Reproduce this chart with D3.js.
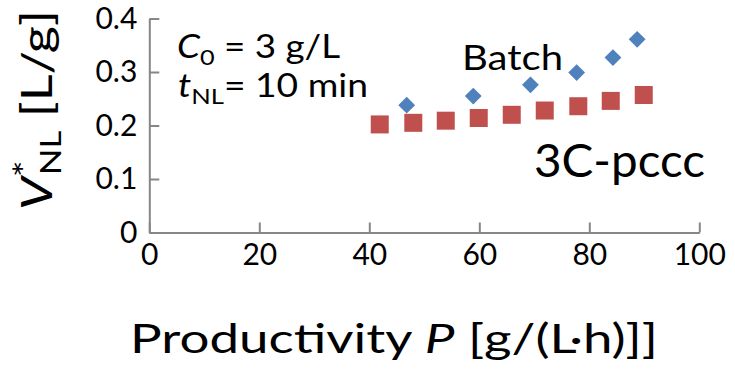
<!DOCTYPE html>
<html>
<head>
<meta charset="utf-8">
<script src="https://cdn.jsdelivr.net/npm/d3@7"></script>
<style>
  body { margin: 0; background: #fff; }
  text { font-family: Lato, "Open Sans", sans-serif; fill: #000; }
</style>
</head>
<body>
<div id="chart"></div>
<script>
// data
const batchP = [46.8, 58.9, 69.3, 77.7, 84.3, 88.7];
const batchV = [0.238, 0.255, 0.276, 0.299, 0.327, 0.361];
const pcccP = [41.9, 48.0, 53.9, 59.9, 65.9, 71.9, 78.0, 83.9, 89.9];
const pcccV = [0.202, 0.205, 0.209, 0.214, 0.220, 0.228, 0.236, 0.246, 0.257];
const xTicks = [0, 20, 40, 60, 80, 100];
const yTicks = [0, 0.1, 0.2, 0.3, 0.4];

const width = 735, height = 369;
const axisColor = "#868686";

const svg = d3.select("#chart").append("svg")
    .attr("width", width)
    .attr("height", height);

const x = d3.scaleLinear().domain([0, 100]).range([149.3, 699.3]);
const y = d3.scaleLinear().domain([0, 0.4]).range([232.5, 18.5]);

// axes, ticks pointing inward like the Excel original
const yAxis = svg.append("g")
    .attr("transform", `translate(${x(0)},0)`)
    .call(d3.axisLeft(y).tickValues(yTicks)
        .tickSizeInner(-10).tickSizeOuter(0).tickPadding(12)
        .tickFormat(d => d === 0 ? "0" : d.toFixed(1)));

const xAxis = svg.append("g")
    .attr("transform", `translate(0,${y(0)})`)
    .call(d3.axisBottom(x).tickValues(xTicks)
        .tickSizeInner(-10).tickSizeOuter(0).tickPadding(11)
        .tickFormat(d3.format("d")));

[xAxis, yAxis].forEach(g => {
    g.select(".domain").attr("stroke", axisColor).attr("stroke-width", 2);
    g.selectAll(".tick line").attr("stroke", axisColor).attr("stroke-width", 2);
    g.selectAll(".tick text")
        .attr("fill", "#000")
        .style("font-family", "Lato, sans-serif")
        .style("font-size", "30px");
});

// series
const pccc = pcccP.map((p, i) => ({ p, v: pcccV[i] }));
const batch = batchP.map((p, i) => ({ p, v: batchV[i] }));

svg.append("g")
    .selectAll("rect")
    .data(pccc)
    .enter().append("rect")
    .attr("x", d => x(d.p) - 9)
    .attr("y", d => y(d.v) - 9)
    .attr("width", 18)
    .attr("height", 18)
    .attr("fill", "#C0504D");

svg.append("g")
    .selectAll("path")
    .data(batch)
    .enter().append("path")
    .attr("d", d3.symbol().type(d3.symbolDiamond2).size(180))
    .attr("transform", d => `translate(${x(d.p)},${y(d.v)})`)
    .attr("fill", "#4F81BD");

// annotations (textLength stretches Lato to the wider Calibri look)
const c0 = svg.append("text").attr("x", 177).attr("y", 58)
    .attr("textLength", 163).attr("lengthAdjust", "spacingAndGlyphs")
    .style("font-size", "32px");
c0.append("tspan").text("C").style("font-style", "italic");
c0.append("tspan").text("0").attr("dy", 7).style("font-size", "22px");
c0.append("tspan").text(" = 3 g/L").attr("dy", -7);

const tnl = svg.append("text").attr("x", 178).attr("y", 97)
    .attr("textLength", 190).attr("lengthAdjust", "spacingAndGlyphs")
    .style("font-size", "32px");
tnl.append("tspan").text("t").style("font-style", "italic");
tnl.append("tspan").text("NL").attr("dy", 7).style("font-size", "22px");
tnl.append("tspan").text("= 10 min").attr("dy", -7);

svg.append("text").attr("x", 462).attr("y", 70)
    .attr("textLength", 101).attr("lengthAdjust", "spacingAndGlyphs")
    .style("font-size", "35px").text("Batch");
svg.append("text").attr("x", 534).attr("y", 177)
    .attr("textLength", 171).attr("lengthAdjust", "spacingAndGlyphs")
    .style("font-size", "46px").text("3C-pccc");

// x title
const xt = svg.append("text")
    .attr("x", 130).attr("y", 353)
    .attr("textLength", 528).attr("lengthAdjust", "spacingAndGlyphs")
    .style("font-size", "40px");
xt.append("tspan").text("Productivity ");
xt.append("tspan").text("P").style("font-style", "italic");
xt.append("tspan").text(" [g/(L·h)]]");

// y title
const yt = svg.append("text")
    .attr("transform", "translate(52,210) rotate(-90)")
    .attr("textLength", 200).attr("lengthAdjust", "spacingAndGlyphs")
    .style("font-size", "42px");
yt.append("tspan").text("V").style("font-style", "italic");
yt.append("tspan").text("*").attr("dy", -15).style("font-size", "32px");
yt.append("tspan").text("NL").attr("dx", -12).attr("dy", 24).style("font-size", "28px");
yt.append("tspan").text(" [L/g]").attr("dy", -9);
</script>
</body>
</html>
